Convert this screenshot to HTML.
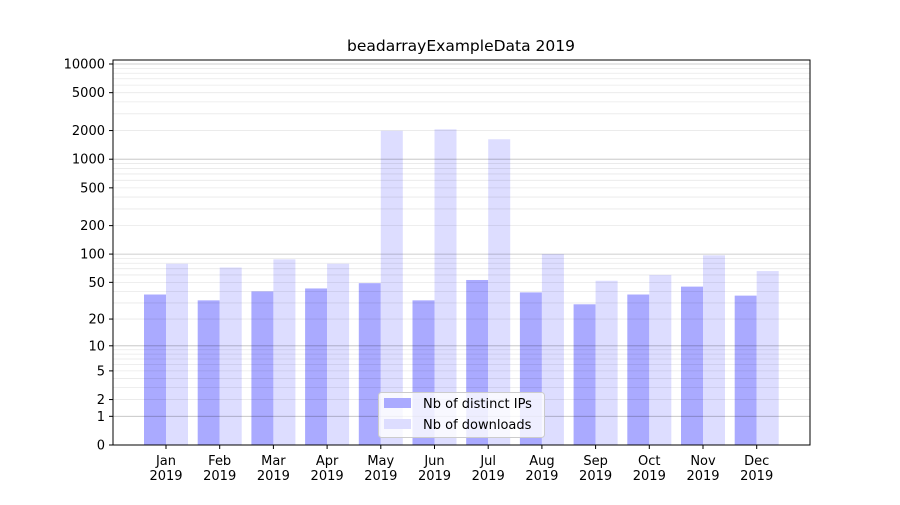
<!DOCTYPE html>
<html><head><meta charset="utf-8"><style>
body{margin:0;background:#fff}
svg text{font-family:"DejaVu Sans","Liberation Sans",sans-serif;font-size:13px;fill:#000}
</style></head><body>
<svg id="s" width="900" height="500" xmlns="http://www.w3.org/2000/svg"></svg>
<script>
const s=document.getElementById('s');
const Y=v=>445-95.25*Math.log10(v+1);
let h='<rect width="900" height="500" fill="#fff"/>';
const a=[37,32,40,43,49,32,53,39,29,37,45,36],b=[79,72,88,79,1990,2060,1620,100,52,60,97,66];
const m=['Jan','Feb','Mar','Apr','May','Jun','Jul','Aug','Sep','Oct','Nov','Dec'];
for(let i=0;i<12;i++){const c=166+i*53.7;
h+=`<rect x="${c-22}" y="${Y(a[i])}" width="22" height="${445-Y(a[i])}" fill="#aaaaff"/>`;
h+=`<rect x="${c}" y="${Y(b[i])}" width="22" height="${445-Y(b[i])}" fill="#ddddff"/>`;
h+=`<line x1="${c}" x2="${c}" y1="445" y2="449" stroke="#000"/>`;
h+=`<text x="${c}" y="465" text-anchor="middle">${m[i]}</text><text x="${c}" y="480" text-anchor="middle">2019</text>`;}
for(let d=1;d<=1000;d*=10)for(let k=2;k<=9;k++){const y=Y(k*d);h+=`<line x1="113" x2="810" y1="${y}" y2="${y}" stroke="rgba(0,0,0,0.09)" stroke-width="0.8"/>`;}
[1,10,100,1000,10000].forEach(v=>{const y=Y(v);h+=`<line x1="113" x2="810" y1="${y}" y2="${y}" stroke="rgba(0,0,0,0.25)" stroke-width="0.8"/>`;});
[0,1,2,5,10,20,50,100,200,500,1000,2000,5000,10000].forEach(v=>{const y=Y(v);
h+=`<line x1="109" x2="113" y1="${y}" y2="${y}" stroke="#000"/><text x="105" y="${y+4.5}" text-anchor="end">${v}</text>`;});
h+='<rect x="113" y="60" width="697" height="385" fill="none" stroke="#000" stroke-width="1"/>';
h+='<text x="461" y="51" text-anchor="middle" style="font-size:15.5px">beadarrayExampleData 2019</text>';
h+='<rect x="378.5" y="392.5" width="166" height="45" rx="3" fill="#fff" fill-opacity="0.8" stroke="#ccc"/>';
h+='<rect x="384" y="398" width="27" height="10" fill="#aaaaff"/><text x="423" y="408">Nb of distinct IPs</text>';
h+='<rect x="384" y="419" width="27" height="10" fill="#ddddff"/><text x="423" y="429">Nb of downloads</text>';
s.innerHTML=h;
</script>
</body></html>
